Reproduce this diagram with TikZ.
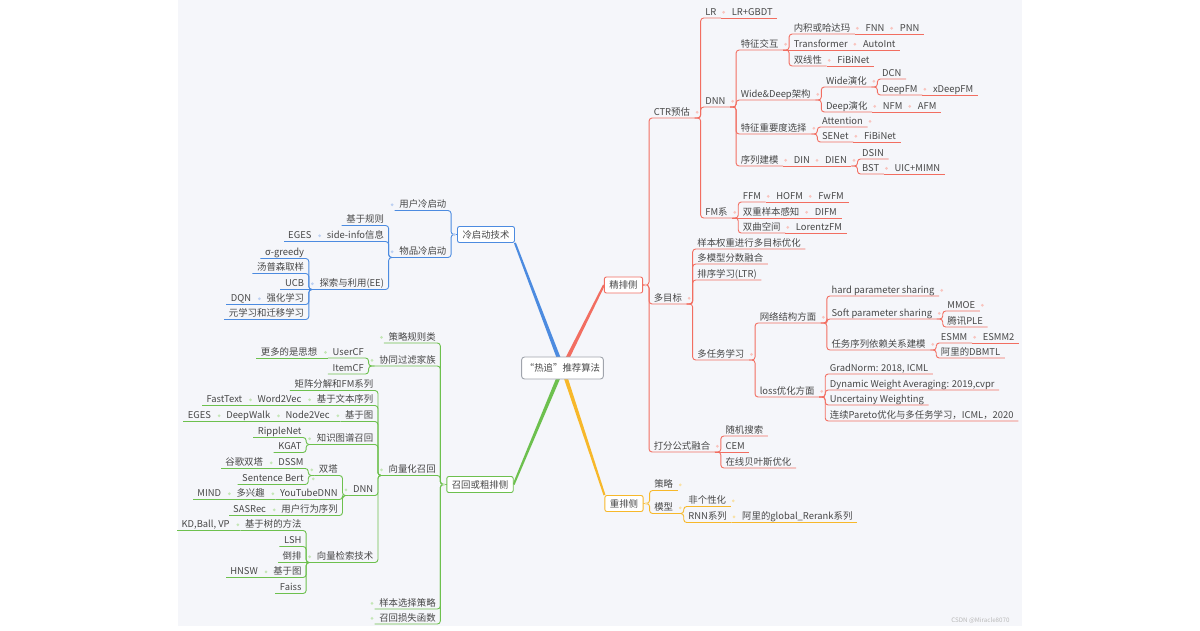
\documentclass[tikz,border=0pt]{standalone}
\usepackage{fontspec}
\setmainfont{Noto Sans CJK SC}
\usetikzlibrary{calc,backgrounds}
\definecolor{bgc}{HTML}{F5F6FA}
\definecolor{txt}{HTML}{474747}
\definecolor{redc}{HTML}{F26E61}
\definecolor{redd}{HTML}{F9C4BE}
\definecolor{bluec}{HTML}{4C8BE0}
\definecolor{blued}{HTML}{BCD0F2}
\definecolor{greenc}{HTML}{6DC04E}
\definecolor{greend}{HTML}{C4E6B6}
\definecolor{yelc}{HTML}{F7B82A}
\definecolor{yeld}{HTML}{F9E1A6}
\definecolor{rootc}{HTML}{A0A4AC}
\begin{document}
\begin{tikzpicture}[x=1pt, y=-1pt, font=\fontsize{9.4}{11}\selectfont]
\tikzset{
  leaf/.style={inner xsep=4.5pt, inner ysep=1pt, text height=7.4pt, text depth=1.6pt, text=txt},
  rn/.style={leaf, anchor=south west},
  ln/.style={leaf, anchor=south east},
  side/.style={draw=#1, fill=white, rounded corners=2pt, line width=0.9pt, inner xsep=5pt, minimum height=16pt, text=txt},
  link/.style={draw=#1, line width=0.9pt, rounded corners=3pt}
}
\useasboundingbox (0,0) rectangle (1200,630);

% centre and the four sides
\node[draw=rootc, fill=white, rounded corners=3pt, line width=0.9pt, minimum width=81pt, minimum height=22pt, text=txt] (root) at (562.5,368) {“热追”推荐算法};
\node[side=redc] (jp) at (623.5,285) {精排侧};
\node[side=yelc] (cp) at (624,503.5) {重排侧};
\node[side=bluec] (cq) at (486,234.5) {冷启动技术};
\node[side=greenc] (zc) at (480,484.5) {召回或粗排侧};

\begin{scope}[on background layer]
\fill[bgc] (178,0) rectangle (1022,626);
\fill[redc] ($(root.center)!2pt!90:(jp.west)$) -- ($(jp.west)!1pt!-90:(root.center)$) -- ($(jp.west)!1pt!90:(root.center)$) -- ($(root.center)!2pt!-90:(jp.west)$) -- cycle;
\fill[bluec] ($(root.center)!2pt!90:(cq.south east)$) -- ($(cq.south east)!1pt!-90:(root.center)$) -- ($(cq.south east)!1pt!90:(root.center)$) -- ($(root.center)!2pt!-90:(cq.south east)$) -- cycle;
\fill[greenc] ($(root.center)!2pt!90:(zc.east)$) -- ($(zc.east)!1pt!-90:(root.center)$) -- ($(zc.east)!1pt!90:(root.center)$) -- ($(root.center)!2pt!-90:(zc.east)$) -- cycle;
\fill[yelc] ($(root.center)!2pt!90:(cp.north west)$) -- ($(cp.north west)!1pt!-90:(root.center)$) -- ($(cp.north west)!1pt!90:(root.center)$) -- ($(root.center)!2pt!-90:(cp.north west)$) -- cycle;
\end{scope}

% 精排侧
\node[rn] (ctr) at ([shift={(6,-167)}]jp.east) {CTR预估};
\node[rn] (mo) at ([shift={(6,19)}]jp.east) {多目标};
\node[rn] (dffu) at ([shift={(6,167)}]jp.east) {打分公式融合};
\node[rn] (lr) at ([shift={(6,-100)}]ctr.south east) {LR};
\node[rn] (lrg) at ([shift={(6,0)}]lr.south east) {LR+GBDT};
\node[rn] (dnn) at ([shift={(6,-11)}]ctr.south east) {DNN};
\node[rn] (fm) at ([shift={(6,100)}]ctr.south east) {FM系};
\node[rn] (tzjh) at ([shift={(6,-57)}]dnn.south east) {特征交互};
\node[rn] (wd) at ([shift={(6,-7)}]dnn.south east) {Wide\&Deep架构};
\node[rn] (tzzy) at ([shift={(6,27)}]dnn.south east) {特征重要度选择};
\node[rn] (xl) at ([shift={(6,59)}]dnn.south east) {序列建模};
\node[rn] (nj) at ([shift={(6,-16)}]tzjh.south east) {内积或哈达玛};
\node[rn] (fnn) at ([shift={(6,0)}]nj.south east) {FNN};
\node[rn] (pnn) at ([shift={(6,0)}]fnn.south east) {PNN};
\node[rn] (tf) at ([shift={(6,0)}]tzjh.south east) {Transformer};
\node[rn] (ai) at ([shift={(6,0)}]tf.south east) {AutoInt};
\node[rn] (sx) at ([shift={(6,16)}]tzjh.south east) {双线性};
\node[rn] (fib1) at ([shift={(6,0)}]sx.south east) {FiBiNet};
\node[rn] (wide) at ([shift={(6,-13)}]wd.south east) {Wide演化};
\node[rn] (deep) at ([shift={(6,12)}]wd.south east) {Deep演化};
\node[rn] (dcn) at ([shift={(6,-8)}]wide.south east) {DCN};
\node[rn] (dfm) at ([shift={(6,8)}]wide.south east) {DeepFM};
\node[rn] (xdfm) at ([shift={(6,0)}]dfm.south east) {xDeepFM};
\node[rn] (nfm) at ([shift={(6,0)}]deep.south east) {NFM};
\node[rn] (afm) at ([shift={(6,0)}]nfm.south east) {AFM};
\node[rn] (att) at ([shift={(6,-7)}]tzzy.south east) {Attention};
\node[rn] (se) at ([shift={(6,8)}]tzzy.south east) {SENet};
\node[rn] (fib2) at ([shift={(6,0)}]se.south east) {FiBiNet};
\node[rn] (din) at ([shift={(6,0)}]xl.south east) {DIN};
\node[rn] (dien) at ([shift={(6,0)}]din.south east) {DIEN};
\node[rn] (dsin) at ([shift={(6,-7)}]dien.south east) {DSIN};
\node[rn] (bst) at ([shift={(6,8)}]dien.south east) {BST};
\node[rn] (uic) at ([shift={(6,0)}]bst.south east) {UIC+MIMN};
\node[rn] (ffm) at ([shift={(6,-16)}]fm.south east) {FFM};
\node[rn] (hofm) at ([shift={(6,0)}]ffm.south east) {HOFM};
\node[rn] (fwfm) at ([shift={(6,0)}]hofm.south east) {FwFM};
\node[rn] (sc) at ([shift={(6,0)}]fm.south east) {双重样本感知};
\node[rn] (difm) at ([shift={(6,0)}]sc.south east) {DIFM};
\node[rn] (sq) at ([shift={(6,15)}]fm.south east) {双曲空间};
\node[rn] (lfm) at ([shift={(6,0)}]sq.south east) {LorentzFM};
\node[rn] (ybqz) at ([shift={(6,-55)}]mo.south east) {样本权重进行多目标优化};
\node[rn] (dmx) at ([shift={(6,-40)}]mo.south east) {多模型分数融合};
\node[rn] (pxxx) at ([shift={(6,-24)}]mo.south east) {排序学习(LTR)};
\node[rn] (drw) at ([shift={(6,56)}]mo.south east) {多任务学习};
\node[rn] (wljg) at ([shift={(6,-37)}]drw.south east) {网络结构方面};
\node[rn] (lossyh) at ([shift={(6,37)}]drw.south east) {loss优化方面};
\node[rn] (hard) at ([shift={(6,-27)}]wljg.south east) {hard parameter sharing};
\node[rn] (soft) at ([shift={(6,-4)}]wljg.south east) {Soft parameter sharing};
\node[rn] (rwxl) at ([shift={(6,27)}]wljg.south east) {任务序列依赖关系建模};
\node[rn] (mmoe) at ([shift={(6,-8)}]soft.south east) {MMOE};
\node[rn] (ple) at ([shift={(6,8)}]soft.south east) {腾讯PLE};
\node[rn] (esmm) at ([shift={(6,-7)}]rwxl.south east) {ESMM};
\node[rn] (esmm2) at ([shift={(6,0)}]esmm.south east) {ESMM2};
\node[rn] (dbmtl) at ([shift={(6,8)}]rwxl.south east) {阿里的DBMTL};
\node[rn] (gn) at ([shift={(6,-23)}]lossyh.south east) {GradNorm: 2018, ICML};
\node[rn] (dwa) at ([shift={(6,-7)}]lossyh.south east) {Dynamic Weight Averaging: 2019,cvpr};
\node[rn] (uw) at ([shift={(6,8)}]lossyh.south east) {Uncertainy Weighting};
\node[rn] (pareto) at ([shift={(6,24)}]lossyh.south east) {连续Pareto优化与多任务学习，ICML，2020};
\node[rn] (sjss) at ([shift={(6,-16)}]dffu.south east) {随机搜索};
\node[rn] (cem) at ([shift={(6,0)}]dffu.south east) {CEM};
\node[rn] (zxby) at ([shift={(6,16)}]dffu.south east) {在线贝叶斯优化};

\draw[link=redc] (jp.east) -| (ctr.south west) -- (ctr.south east);
\draw[link=redc] (jp.east) -| (mo.south west) -- (mo.south east);
\draw[link=redc] (jp.east) -| (dffu.south west) -- (dffu.south east);
\draw[link=redc] (ctr.south east) -| (lr.south west) -- (lr.south east);
\draw[link=redc] (lr.south east) -- (lrg.south east);
\draw[link=redc] (ctr.south east) -| (dnn.south west) -- (dnn.south east);
\draw[link=redc] (ctr.south east) -| (fm.south west) -- (fm.south east);
\draw[link=redc] (dnn.south east) -| (tzjh.south west) -- (tzjh.south east);
\draw[link=redc] (dnn.south east) -| (wd.south west) -- (wd.south east);
\draw[link=redc] (dnn.south east) -| (tzzy.south west) -- (tzzy.south east);
\draw[link=redc] (dnn.south east) -| (xl.south west) -- (xl.south east);
\draw[link=redc] (tzjh.south east) -| (nj.south west) -- (nj.south east);
\draw[link=redc] (nj.south east) -- (fnn.south east);
\draw[link=redc] (fnn.south east) -- (pnn.south east);
\draw[link=redc] (tzjh.south east) -- (tf.south east);
\draw[link=redc] (tf.south east) -- (ai.south east);
\draw[link=redc] (tzjh.south east) -| (sx.south west) -- (sx.south east);
\draw[link=redc] (sx.south east) -- (fib1.south east);
\draw[link=redc] (wd.south east) -| (wide.south west) -- (wide.south east);
\draw[link=redc] (wd.south east) -| (deep.south west) -- (deep.south east);
\draw[link=redc] (wide.south east) -| (dcn.south west) -- (dcn.south east);
\draw[link=redc] (wide.south east) -| (dfm.south west) -- (dfm.south east);
\draw[link=redc] (dfm.south east) -- (xdfm.south east);
\draw[link=redc] (deep.south east) -- (nfm.south east);
\draw[link=redc] (nfm.south east) -- (afm.south east);
\draw[link=redc] (tzzy.south east) -| (att.south west) -- (att.south east);
\draw[link=redc] (tzzy.south east) -| (se.south west) -- (se.south east);
\draw[link=redc] (se.south east) -- (fib2.south east);
\draw[link=redc] (xl.south east) -- (din.south east);
\draw[link=redc] (din.south east) -- (dien.south east);
\draw[link=redc] (dien.south east) -| (dsin.south west) -- (dsin.south east);
\draw[link=redc] (dien.south east) -| (bst.south west) -- (bst.south east);
\draw[link=redc] (bst.south east) -- (uic.south east);
\draw[link=redc] (fm.south east) -| (ffm.south west) -- (ffm.south east);
\draw[link=redc] (ffm.south east) -- (hofm.south east);
\draw[link=redc] (hofm.south east) -- (fwfm.south east);
\draw[link=redc] (fm.south east) -- (sc.south east);
\draw[link=redc] (sc.south east) -- (difm.south east);
\draw[link=redc] (fm.south east) -| (sq.south west) -- (sq.south east);
\draw[link=redc] (sq.south east) -- (lfm.south east);
\draw[link=redc] (mo.south east) -| (ybqz.south west) -- (ybqz.south east);
\draw[link=redc] (mo.south east) -| (dmx.south west) -- (dmx.south east);
\draw[link=redc] (mo.south east) -| (pxxx.south west) -- (pxxx.south east);
\draw[link=redc] (mo.south east) -| (drw.south west) -- (drw.south east);
\draw[link=redc] (drw.south east) -| (wljg.south west) -- (wljg.south east);
\draw[link=redc] (drw.south east) -| (lossyh.south west) -- (lossyh.south east);
\draw[link=redc] (wljg.south east) -| (hard.south west) -- (hard.south east);
\draw[link=redc] (wljg.south east) -| (soft.south west) -- (soft.south east);
\draw[link=redc] (wljg.south east) -| (rwxl.south west) -- (rwxl.south east);
\draw[link=redc] (soft.south east) -| (mmoe.south west) -- (mmoe.south east);
\draw[link=redc] (soft.south east) -| (ple.south west) -- (ple.south east);
\draw[link=redc] (rwxl.south east) -| (esmm.south west) -- (esmm.south east);
\draw[link=redc] (esmm.south east) -- (esmm2.south east);
\draw[link=redc] (rwxl.south east) -| (dbmtl.south west) -- (dbmtl.south east);
\draw[link=redc] (lossyh.south east) -| (gn.south west) -- (gn.south east);
\draw[link=redc] (lossyh.south east) -| (dwa.south west) -- (dwa.south east);
\draw[link=redc] (lossyh.south east) -| (uw.south west) -- (uw.south east);
\draw[link=redc] (lossyh.south east) -| (pareto.south west) -- (pareto.south east);
\draw[link=redc] (dffu.south east) -| (sjss.south west) -- (sjss.south east);
\draw[link=redc] (dffu.south east) -- (cem.south east);
\draw[link=redc] (dffu.south east) -| (zxby.south west) -- (zxby.south east);
\fill[redd] ([xshift=2.5]jp.east) circle (1.5) ([xshift=2.5]ctr.east) circle (1.5) ([xshift=2.5]lr.east) circle (1.5) ([xshift=2.5]dnn.east) circle (1.5) ([xshift=2.5]tzjh.east) circle (1.5) ([xshift=2.5]nj.east) circle (1.5) ([xshift=2.5]fnn.east) circle (1.5) ([xshift=2.5]tf.east) circle (1.5) ([xshift=2.5]sx.east) circle (1.5) ([xshift=2.5]wd.east) circle (1.5) ([xshift=2.5]wide.east) circle (1.5) ([xshift=2.5]dfm.east) circle (1.5) ([xshift=2.5]deep.east) circle (1.5) ([xshift=2.5]nfm.east) circle (1.5) ([xshift=2.5]tzzy.east) circle (1.5) ([xshift=2.5]att.east) circle (1.5) ([xshift=2.5]se.east) circle (1.5) ([xshift=2.5]xl.east) circle (1.5) ([xshift=2.5]din.east) circle (1.5) ([xshift=2.5]dien.east) circle (1.5) ([xshift=2.5]bst.east) circle (1.5) ([xshift=2.5]fm.east) circle (1.5) ([xshift=2.5]ffm.east) circle (1.5) ([xshift=2.5]hofm.east) circle (1.5) ([xshift=2.5]sc.east) circle (1.5) ([xshift=2.5]sq.east) circle (1.5) ([xshift=2.5]mo.east) circle (1.5) ([xshift=2.5]drw.east) circle (1.5) ([xshift=2.5]wljg.east) circle (1.5) ([xshift=2.5]hard.east) circle (1.5) ([xshift=2.5]soft.east) circle (1.5) ([xshift=2.5]mmoe.east) circle (1.5) ([xshift=2.5]rwxl.east) circle (1.5) ([xshift=2.5]esmm.east) circle (1.5) ([xshift=2.5]lossyh.east) circle (1.5) ([xshift=2.5]dffu.east) circle (1.5);

% 重排侧
\node[rn] (cl2) at ([shift={(6,-13)}]cp.east) {策略};
\node[rn] (mx) at ([shift={(6,10)}]cp.east) {模型};
\node[rn] (fgx) at ([shift={(6,-7)}]mx.south east) {非个性化};
\node[rn] (rnn) at ([shift={(6,9)}]mx.south east) {RNN系列};
\node[rn] (grr) at ([shift={(6,0)}]rnn.south east) {阿里的global\_Rerank系列};
\draw[link=yelc] (cp.east) -| (cl2.south west) -- (cl2.south east);
\draw[link=yelc] (cp.east) -| (mx.south west) -- (mx.south east);
\draw[link=yelc] (mx.south east) -| (fgx.south west) -- (fgx.south east);
\draw[link=yelc] (mx.south east) -| (rnn.south west) -- (rnn.south east);
\draw[link=yelc] (rnn.south east) -- (grr.south east);
\fill[yeld] ([xshift=2.5]cp.east) circle (1.5) ([xshift=2.5]cl2.east) circle (1.5) ([xshift=2.5]mx.east) circle (1.5) ([xshift=2.5]fgx.east) circle (1.5) ([xshift=2.5]rnn.east) circle (1.5);

% 冷启动技术
\node[ln] (yhlq) at ([shift={(-6,-24)}]cq.west) {用户冷启动};
\node[ln] (wplq) at ([shift={(-6,23)}]cq.west) {物品冷启动};
\node[ln] (jygz) at ([shift={(-6,-32)}]wplq.south west) {基于规则};
\node[ln] (sideinfo) at ([shift={(-6,-16)}]wplq.south west) {side-info信息};
\node[ln] (eges1) at ([shift={(-6,0)}]sideinfo.south west) {EGES};
\node[ln] (ee) at ([shift={(-6,32)}]wplq.south west) {探索与利用(EE)};
\node[ln] (greedy) at ([shift={(-6,-31)}]ee.south west) {σ-greedy};
\node[ln] (tps) at ([shift={(-6,-16)}]ee.south west) {汤普森取样};
\node[ln] (ucb) at ([shift={(-6,0)}]ee.south west) {UCB};
\node[ln] (qhxx) at ([shift={(-6,15)}]ee.south west) {强化学习};
\node[ln] (dqn) at ([shift={(-6,0)}]qhxx.south west) {DQN};
\node[ln] (yxx) at ([shift={(-6,30)}]ee.south west) {元学习和迁移学习};
\draw[link=bluec] (cq.west) -| (yhlq.south east) -- (yhlq.south west);
\draw[link=bluec] (cq.west) -| (wplq.south east) -- (wplq.south west);
\draw[link=bluec] (wplq.south west) -| (jygz.south east) -- (jygz.south west);
\draw[link=bluec] (wplq.south west) -| (sideinfo.south east) -- (sideinfo.south west);
\draw[link=bluec] (sideinfo.south west) -- (eges1.south west);
\draw[link=bluec] (wplq.south west) -| (ee.south east) -- (ee.south west);
\draw[link=bluec] (ee.south west) -| (greedy.south east) -- (greedy.south west);
\draw[link=bluec] (ee.south west) -| (tps.south east) -- (tps.south west);
\draw[link=bluec] (ee.south west) -- (ucb.south west);
\draw[link=bluec] (ee.south west) -| (qhxx.south east) -- (qhxx.south west);
\draw[link=bluec] (qhxx.south west) -- (dqn.south west);
\draw[link=bluec] (ee.south west) -| (yxx.south east) -- (yxx.south west);
\fill[blued] ([xshift=-2.5]cq.west) circle (1.5) ([xshift=-2.5]yhlq.west) circle (1.5) ([xshift=-2.5]wplq.west) circle (1.5) ([xshift=-2.5]sideinfo.west) circle (1.5) ([xshift=-2.5]ee.west) circle (1.5) ([xshift=-2.5]qhxx.west) circle (1.5);

% 召回或粗排侧
\node[ln] (cl) at ([shift={(-6,-141.5)}]zc.west) {策略规则类};
\node[ln] (xt) at ([shift={(-6,-118.5)}]zc.west) {协同过滤家族};
\node[ln] (xlh) at ([shift={(-6,-9)}]zc.west) {向量化召回};
\node[ln] (ybxz) at ([shift={(-6,124.5)}]zc.west) {样本选择策略};
\node[ln] (zhss) at ([shift={(-6,139.5)}]zc.west) {召回损失函数};
\node[ln] (usercf) at ([shift={(-6,-8)}]xt.south west) {UserCF};
\node[ln] (gdsx) at ([shift={(-6,0)}]usercf.south west) {更多的是思想};
\node[ln] (itemcf) at ([shift={(-6,8)}]xt.south west) {ItemCF};
\node[ln] (jzfj) at ([shift={(-6,-85)}]xlh.south west) {矩阵分解和FM系列};
\node[ln] (jbws) at ([shift={(-6,-70)}]xlh.south west) {基于文本序列};
\node[ln] (w2v) at ([shift={(-6,0)}]jbws.south west) {Word2Vec};
\node[ln] (ft) at ([shift={(-6,0)}]w2v.south west) {FastText};
\node[ln] (jyt) at ([shift={(-6,-54)}]xlh.south west) {基于图};
\node[ln] (n2v) at ([shift={(-6,0)}]jyt.south west) {Node2Vec};
\node[ln] (dw) at ([shift={(-6,0)}]n2v.south west) {DeepWalk};
\node[ln] (eges2) at ([shift={(-6,0)}]dw.south west) {EGES};
\node[ln] (zstp) at ([shift={(-6,-31)}]xlh.south west) {知识图谱召回};
\node[ln] (ripple) at ([shift={(-6,-7)}]zstp.south west) {RippleNet};
\node[ln] (kgat) at ([shift={(-6,8)}]zstp.south west) {KGAT};
\node[ln] (dnnz) at ([shift={(-6,20)}]xlh.south west) {DNN};
\node[ln] (st) at ([shift={(-6,-20)}]dnnz.south west) {双塔};
\node[ln] (dssm) at ([shift={(-6,-7)}]st.south west) {DSSM};
\node[ln] (ggst) at ([shift={(-6,0)}]dssm.south west) {谷歌双塔};
\node[ln] (sbert) at ([shift={(-6,9)}]st.south west) {Sentence Bert};
\node[ln] (ytdnn) at ([shift={(-6,4)}]dnnz.south west) {YouTubeDNN};
\node[ln] (dxq) at ([shift={(-6,0)}]ytdnn.south west) {多兴趣};
\node[ln] (mind) at ([shift={(-6,0)}]dxq.south west) {MIND};
\node[ln] (yhxw) at ([shift={(-6,20)}]dnnz.south west) {用户行为序列};
\node[ln] (sasrec) at ([shift={(-6,0)}]yhxw.south west) {SASRec};
\node[ln] (xljs) at ([shift={(-6,87)}]xlh.south west) {向量检索技术};
\node[ln] (jys) at ([shift={(-6,-32)}]xljs.south west) {基于树的方法};
\node[ln] (kd) at ([shift={(-6,0)}]jys.south west) {KD,Ball, VP};
\node[ln] (lsh) at ([shift={(-6,-16)}]xljs.south west) {LSH};
\node[ln] (dp) at ([shift={(-6,0)}]xljs.south west) {倒排};
\node[ln] (jyt2) at ([shift={(-6,15)}]xljs.south west) {基于图};
\node[ln] (hnsw) at ([shift={(-6,0)}]jyt2.south west) {HNSW};
\node[ln] (faiss) at ([shift={(-6,31)}]xljs.south west) {Faiss};
\draw[link=greenc] (zc.west) -| (cl.south east) -- (cl.south west);
\draw[link=greenc] (zc.west) -| (xt.south east) -- (xt.south west);
\draw[link=greenc] (zc.west) -| (xlh.south east) -- (xlh.south west);
\draw[link=greenc] (zc.west) -| (ybxz.south east) -- (ybxz.south west);
\draw[link=greenc] (zc.west) -| (zhss.south east) -- (zhss.south west);
\draw[link=greenc] (xt.south west) -| (usercf.south east) -- (usercf.south west);
\draw[link=greenc] (usercf.south west) -- (gdsx.south west);
\draw[link=greenc] (xt.south west) -| (itemcf.south east) -- (itemcf.south west);
\draw[link=greenc] (xlh.south west) -| (jzfj.south east) -- (jzfj.south west);
\draw[link=greenc] (xlh.south west) -| (jbws.south east) -- (jbws.south west);
\draw[link=greenc] (jbws.south west) -- (w2v.south west);
\draw[link=greenc] (w2v.south west) -- (ft.south west);
\draw[link=greenc] (xlh.south west) -| (jyt.south east) -- (jyt.south west);
\draw[link=greenc] (jyt.south west) -- (n2v.south west);
\draw[link=greenc] (n2v.south west) -- (dw.south west);
\draw[link=greenc] (dw.south west) -- (eges2.south west);
\draw[link=greenc] (xlh.south west) -| (zstp.south east) -- (zstp.south west);
\draw[link=greenc] (zstp.south west) -| (ripple.south east) -- (ripple.south west);
\draw[link=greenc] (zstp.south west) -| (kgat.south east) -- (kgat.south west);
\draw[link=greenc] (xlh.south west) -| (dnnz.south east) -- (dnnz.south west);
\draw[link=greenc] (dnnz.south west) -| (st.south east) -- (st.south west);
\draw[link=greenc] (st.south west) -| (dssm.south east) -- (dssm.south west);
\draw[link=greenc] (dssm.south west) -- (ggst.south west);
\draw[link=greenc] (st.south west) -| (sbert.south east) -- (sbert.south west);
\draw[link=greenc] (dnnz.south west) -| (ytdnn.south east) -- (ytdnn.south west);
\draw[link=greenc] (ytdnn.south west) -- (dxq.south west);
\draw[link=greenc] (dxq.south west) -- (mind.south west);
\draw[link=greenc] (dnnz.south west) -| (yhxw.south east) -- (yhxw.south west);
\draw[link=greenc] (yhxw.south west) -- (sasrec.south west);
\draw[link=greenc] (xlh.south west) -| (xljs.south east) -- (xljs.south west);
\draw[link=greenc] (xljs.south west) -| (jys.south east) -- (jys.south west);
\draw[link=greenc] (jys.south west) -- (kd.south west);
\draw[link=greenc] (xljs.south west) -| (lsh.south east) -- (lsh.south west);
\draw[link=greenc] (xljs.south west) -- (dp.south west);
\draw[link=greenc] (xljs.south west) -| (jyt2.south east) -- (jyt2.south west);
\draw[link=greenc] (jyt2.south west) -- (hnsw.south west);
\draw[link=greenc] (xljs.south west) -| (faiss.south east) -- (faiss.south west);
\fill[greend] ([xshift=-2.5]zc.west) circle (1.5) ([xshift=-2.5]cl.west) circle (1.5) ([xshift=-2.5]xt.west) circle (1.5) ([xshift=-2.5]usercf.west) circle (1.5) ([xshift=-2.5]xlh.west) circle (1.5) ([xshift=-2.5]jbws.west) circle (1.5) ([xshift=-2.5]w2v.west) circle (1.5) ([xshift=-2.5]jyt.west) circle (1.5) ([xshift=-2.5]n2v.west) circle (1.5) ([xshift=-2.5]dw.west) circle (1.5) ([xshift=-2.5]zstp.west) circle (1.5) ([xshift=-2.5]dnnz.west) circle (1.5) ([xshift=-2.5]st.west) circle (1.5) ([xshift=-2.5]dssm.west) circle (1.5) ([xshift=-2.5]ytdnn.west) circle (1.5) ([xshift=-2.5]dxq.west) circle (1.5) ([xshift=-2.5]yhxw.west) circle (1.5) ([xshift=-2.5]xljs.west) circle (1.5) ([xshift=-2.5]jys.west) circle (1.5) ([xshift=-2.5]jyt2.west) circle (1.5) ([xshift=-2.5]ybxz.west) circle (1.5) ([xshift=-2.5]zhss.west) circle (1.5) ([xshift=5]sbert.east) circle (1.5);

\node[text=gray!55, font=\fontsize{6.2}{7}\selectfont, anchor=east] (wm) at (1013,621) {CSDN @Miracle8070};
\end{tikzpicture}
\end{document}
